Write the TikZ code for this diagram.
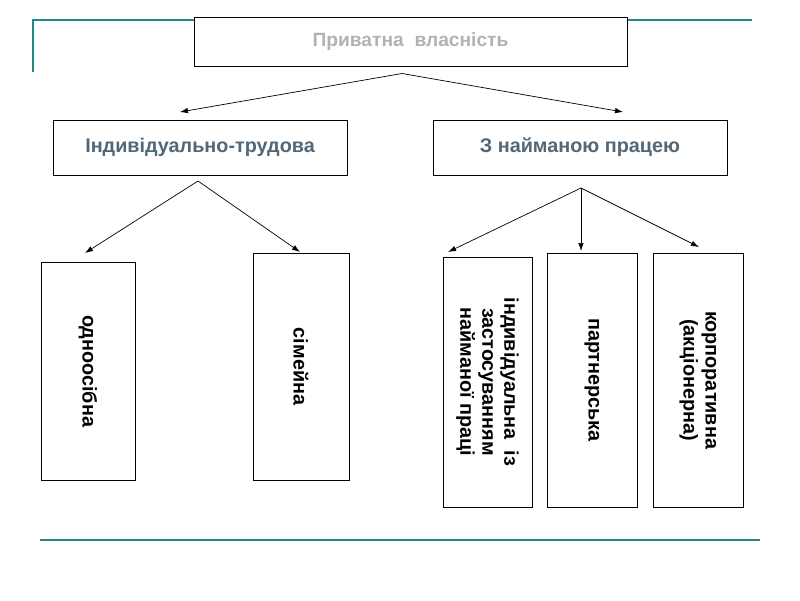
\documentclass[tikz,border=0pt]{standalone}
\usepackage{fontspec}
\setmainfont{Liberation Sans}
\usetikzlibrary{arrows.meta}
\definecolor{tealline}{RGB}{36,138,136}
\definecolor{headgray}{RGB}{178,178,178}
\definecolor{slatetext}{RGB}{82,103,119}
\begin{document}
\begin{tikzpicture}[x=1pt,y=-1pt,
    box/.style={draw,line width=1pt,rectangle,inner sep=0pt},
    kind/.style={font=\fontsize{19.8}{22}\selectfont\bfseries,text=slatetext},
    leaftext/.style={rotate=-90,align=center,font=\fontsize{19.8}{22}\selectfont\bfseries},
    arr/.style={-{Latex[length=8pt,width=5.5pt]},line width=0.7pt},
    rule/.style={tealline,line width=2pt}]
    \useasboundingbox (0,0) rectangle (800,600);
    % Draw teal frame lines
    \draw[rule] (33,72) -- (33,20) -- (194,20);
    \draw[rule] (627,20) -- (752,20);
    \draw[rule] (40,540) -- (760,540);
    % Draw top box
    \node[box,minimum width=433,minimum height=49,text=headgray,font=\fontsize{19.2}{22}\selectfont\bfseries] (own) at (410.5,41.5) {Приватна\ \ власність};
    % Draw second level
    \node[box,kind,minimum width=294,minimum height=55] (solo) at (200,147.5) {Індивідуально-трудова};
    \node[box,kind,minimum width=294,minimum height=55] (hired) at (580,147.5) {З найманою працею};
    % Draw third level (rotated texts)
    \node[box,minimum width=94,minimum height=218,label={[leaftext]center:одноосібна}] (single) at (88,371) {};
    \node[box,minimum width=96,minimum height=227,label={[leaftext]center:сімейна}] (family) at (301,366.5) {};
    \node[box,minimum width=89,minimum height=250,label={[leaftext]center:індивідуальна\ \ із\\застосуванням\\найманої праці}] (indiv) at (487.5,382) {};
    \node[box,minimum width=90,minimum height=254,label={[leaftext]center:партнерська}] (partner) at (592,380) {};
    \node[box,minimum width=90,minimum height=254,label={[leaftext]center:корпоративна\\(акціонерна)}] (corp) at (698,380) {};
    % Fork points and arrow ends
    \coordinate (own fork) at ([yshift=-7]own.south -| 402,0);
    \coordinate (solo fork) at (198,181);
    \coordinate (hired fork) at (581,188);
    \coordinate (to solo) at (180,112);
    \coordinate (to hired) at (623,112);
    \coordinate (to single) at (85,253);
    \coordinate (to family) at (300,252);
    \coordinate (to indiv) at (448,252);
    \coordinate (to partner) at (581,251);
    \coordinate (to corp) at (699,247);
    % Draw arrows
    \draw[arr] (own fork) -- (to solo);
    \draw[arr] (own fork) -- (to hired);
    \draw[arr] (solo fork) -- (to single);
    \draw[arr] (solo fork) -- (to family);
    \draw[arr] (hired fork) -- (to indiv);
    \draw[arr] (hired fork) -- (to partner);
    \draw[arr] (hired fork) -- (to corp);
\end{tikzpicture}
\end{document}
